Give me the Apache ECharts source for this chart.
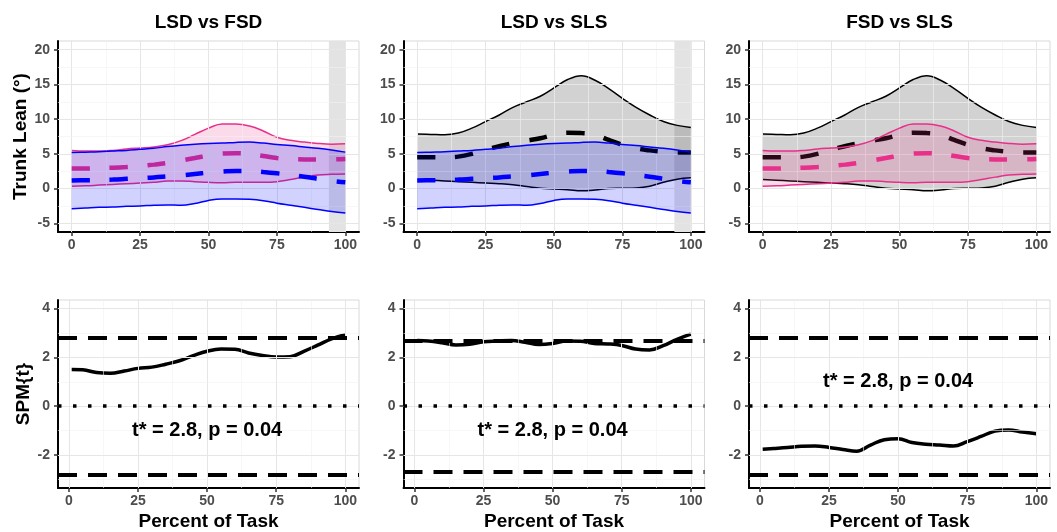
<!DOCTYPE html>
<html>
<head>
<meta charset="utf-8">
<script src="https://cdn.jsdelivr.net/npm/echarts@6/dist/echarts.min.js"></script>
<style>
html, body { margin: 0; padding: 0; background: #fff; }
#chart { width: 1057px; height: 532px; }
</style>
</head>
<body>
<div id="chart"></div>
<script>
/* percent of task for the mean +/- sd curves */
var pct = [0, 5, 10, 15, 20, 25, 30, 35, 40, 45, 50, 55, 60, 65, 70, 75, 80, 85, 90, 95, 100];
/* percent of task for the SPM{t} curves */
var spmPct = [1, 5, 10, 15, 20, 25, 30, 35, 40, 45, 50, 55, 60, 65, 70, 75, 80, 85, 90, 95, 100];

var lsdUpper = [5.2, 5.25, 5.3, 5.4, 5.5, 5.65, 5.8, 6.05, 6.25, 6.4, 6.5, 6.55, 6.65, 6.7, 6.55, 6.35, 6.2, 6.0, 5.8, 5.55, 5.25];
var lsdMean = [1.15, 1.2, 1.25, 1.3, 1.4, 1.5, 1.6, 1.75, 1.9, 2.1, 2.3, 2.45, 2.55, 2.55, 2.4, 2.2, 1.95, 1.7, 1.4, 1.1, 0.9];
var lsdLower = [-2.9, -2.8, -2.7, -2.65, -2.55, -2.5, -2.4, -2.35, -2.4, -2.15, -1.7, -1.5, -1.5, -1.55, -1.75, -2.1, -2.4, -2.7, -3.0, -3.3, -3.5];

var fsdUpper = [5.5, 5.4, 5.4, 5.5, 5.7, 5.85, 6.0, 6.3, 6.9, 7.8, 8.7, 9.3, 9.3, 9.0, 8.3, 7.4, 6.95, 6.7, 6.5, 6.4, 6.45];
var fsdMean = [2.9, 2.9, 2.95, 3.0, 3.1, 3.25, 3.45, 3.7, 4.05, 4.4, 4.75, 5.05, 5.1, 5.0, 4.7, 4.4, 4.25, 4.2, 4.2, 4.2, 4.25];
var fsdLower = [0.35, 0.4, 0.5, 0.6, 0.7, 0.8, 0.9, 1.1, 1.1, 1.0, 0.9, 0.85, 0.9, 0.9, 0.9, 1.0, 1.3, 1.65, 1.95, 2.05, 2.1];

var slsUpper = [7.85, 7.8, 7.75, 8.0, 8.7, 9.65, 10.6, 11.7, 12.5, 13.3, 14.5, 15.7, 16.25, 15.6, 14.4, 13.0, 11.7, 10.6, 9.65, 9.1, 8.8];
var slsMean = [4.5, 4.5, 4.5, 4.6, 5.0, 5.6, 6.1, 6.55, 6.9, 7.25, 7.75, 8.05, 8.0, 7.75, 7.0, 6.3, 5.8, 5.5, 5.3, 5.2, 5.2];
var slsLower = [1.3, 1.2, 1.1, 1.0, 0.9, 0.8, 0.7, 0.55, 0.3, 0.05, -0.05, -0.15, -0.3, -0.2, 0.0, 0.05, 0.1, 0.35, 0.9, 1.35, 1.55];

var spmLsdFsd = [1.5, 1.49, 1.38, 1.35, 1.44, 1.55, 1.6, 1.72, 1.86, 2.07, 2.25, 2.34, 2.33, 2.18, 2.08, 2.02, 2.03, 2.25, 2.5, 2.76, 2.93];
var spmLsdSls = [2.69, 2.67, 2.6, 2.51, 2.54, 2.64, 2.67, 2.69, 2.62, 2.53, 2.57, 2.67, 2.66, 2.57, 2.55, 2.49, 2.34, 2.3, 2.48, 2.74, 2.95];
var spmFsdSls = [-1.76, -1.73, -1.69, -1.64, -1.63, -1.69, -1.77, -1.84, -1.59, -1.37, -1.33, -1.49, -1.56, -1.59, -1.63, -1.45, -1.24, -1.02, -0.97, -1.06, -1.13];

var titles = ['LSD vs FSD', 'LSD vs SLS', 'FSD vs SLS'];
var critT = [2.8, 2.7, 2.8];
var annotText = 't* = 2.8, p = 0.04';
var annotPos = [[50, -1], [50, -1], [50, 1]];
var sigRegions = [[94, 100], [94, 100], null];

var xTicks = [0, 25, 50, 75, 100];
var xMinor = [12.5, 37.5, 62.5, 87.5];
var topYTicks = [-5, 0, 5, 10, 15, 20];
var topYMinor = [-2.5, 2.5, 7.5, 12.5, 17.5];
var botYTicks = [-2, 0, 2, 4];
var botYMinor = [-3, -1, 1, 3];

var FONT = 'Liberation Sans, Arial, sans-serif';
var PINK = '#e8308a', BLUE = '#0000ff', BLACK = '#000000';

var groups = {
    lsd: { upper: lsdUpper, mean: lsdMean, lower: lsdLower, color: BLUE, rgb: '0,0,255' },
    fsd: { upper: fsdUpper, mean: fsdMean, lower: fsdLower, color: PINK, rgb: '232,48,138' },
    sls: { upper: slsUpper, mean: slsMean, lower: slsLower, color: BLACK, rgb: '0,0,0' }
};
/* draw order in each top panel (later ones on top) */
var panelGroups = [['fsd', 'lsd'], ['sls', 'lsd'], ['sls', 'fsd']];
var spmSeries = [spmLsdFsd, spmLsdSls, spmFsdSls];

var panelLeft = [58, 403.5, 749];
var panelWidth = 301;

var grids = [], xAxes = [], yAxes = [], series = [], graphics = [];

function pairs(xs, ys) {
    return xs.map(function (x, i) { return [x, ys[i]]; });
}
// [y, x] order so the stack goes on the y value (both axes are value axes)
function flipped(xs, ys) {
    return xs.map(function (x, i) { return [ys[i], x]; });
}

function gridLines(gi, xs, ys) {
    var d = [];
    xs.major.forEach(function (v) { d.push({ xAxis: v, lineStyle: { color: '#e6e6e6', width: 1, type: 'solid' } }); });
    xs.minor.forEach(function (v) { d.push({ xAxis: v, lineStyle: { color: '#f2f2f2', width: 0.6, type: 'solid' } }); });
    ys.major.forEach(function (v) { d.push({ yAxis: v, lineStyle: { color: '#e6e6e6', width: 1, type: 'solid' } }); });
    ys.minor.forEach(function (v) { d.push({ yAxis: v, lineStyle: { color: '#f2f2f2', width: 0.6, type: 'solid' } }); });
    series.push({
        type: 'line', xAxisIndex: gi, yAxisIndex: gi, data: [], z: 0, silent: true,
        markLine: { silent: true, symbol: ['none', 'none'], label: { show: false }, animation: false, data: d }
    });
}

function axisPair(gi, xMin, xMax, yMin, yMax, yTicks, yName, xName) {
    xAxes.push({
        gridIndex: gi, type: 'value', min: xMin, max: xMax,
        axisLine: { show: true, onZero: false, lineStyle: { color: '#000', width: 2 } },
        axisTick: { show: true, customValues: xTicks, length: 4, lineStyle: { color: '#333', width: 1.5 } },
        axisLabel: { customValues: xTicks, margin: 6, color: '#4d4d4d', fontWeight: 'bold', fontSize: 14, fontFamily: FONT },
        splitLine: { show: false },
        name: xName || '', nameLocation: 'middle', nameGap: 24,
        nameTextStyle: { fontSize: 19, fontWeight: 'bold', color: '#000', fontFamily: FONT }
    });
    yAxes.push({
        gridIndex: gi, type: 'value', min: yMin, max: yMax,
        axisLine: { show: true, onZero: false, lineStyle: { color: '#000', width: 2 } },
        axisTick: { show: true, customValues: yTicks, length: 4, lineStyle: { color: '#333', width: 1.5 } },
        axisLabel: { customValues: yTicks, margin: 8, color: '#4d4d4d', fontWeight: 'bold', fontSize: 14, fontFamily: FONT },
        splitLine: { show: false },
        name: yName || '', nameLocation: 'middle', nameGap: 23,
        nameTextStyle: { fontSize: 19, fontWeight: 'bold', color: '#000', fontFamily: FONT }
    });
}

/* top row: mean +/- sd bands */
for (var i = 0; i < 3; i++) {
    grids.push({ left: panelLeft[i], top: 41, width: panelWidth, height: 191, show: true, borderColor: '#d9d9d9', borderWidth: 1 });
    axisPair(i, -5, 105, -6.25, 21.25, topYTicks, i === 0 ? 'Trunk Lean (°)' : '');
    gridLines(i, { major: xTicks, minor: xMinor }, { major: topYTicks, minor: topYMinor });

    if (sigRegions[i]) {
        series.push({
            type: 'line', xAxisIndex: i, yAxisIndex: i, data: [], z: 1, silent: true,
            markArea: { silent: true, itemStyle: { color: '#e3e3e3' }, data: [[{ xAxis: sigRegions[i][0] }, { xAxis: sigRegions[i][1] }]] }
        });
    }

    panelGroups[i].forEach(function (key, k) {
        var g = groups[key];
        var z = 3 + k * 3;
        var stackId = 'band' + i + key;
        series.push({
            type: 'line', xAxisIndex: i, yAxisIndex: i, stack: stackId, stackStrategy: 'all',
            encode: { x: 1, y: 0 },
            data: flipped(pct, g.lower), symbol: 'none', smooth: 0.4,
            lineStyle: { color: g.color, width: 1.5 }, z: z + 1
        });
        series.push({
            type: 'line', xAxisIndex: i, yAxisIndex: i, stack: stackId, stackStrategy: 'all',
            encode: { x: 1, y: 0 },
            data: flipped(pct, g.upper.map(function (v, j) { return v - g.lower[j]; })),
            symbol: 'none', smooth: 0.4,
            lineStyle: { color: g.color, width: 1.5 },
            areaStyle: { color: 'rgba(' + g.rgb + ',0.25)' }, z: z
        });
        series.push({
            type: 'line', xAxisIndex: i, yAxisIndex: i, data: pairs(pct, g.mean),
            symbol: 'none', smooth: 0.4,
            lineStyle: { color: g.color, width: 4.5, type: [18, 20], cap: 'butt' }, z: z + 2
        });
    });

    graphics.push({
        type: 'text', x: panelLeft[i] + panelWidth / 2, y: 23,
        style: { text: titles[i], font: 'bold 19px ' + FONT, fill: '#000', align: 'center', verticalAlign: 'middle', textAlign: 'center', textVerticalAlign: 'middle' }
    });
}

/* bottom row: SPM{t} */
for (var i = 0; i < 3; i++) {
    var gi = 3 + i;
    grids.push({ left: panelLeft[i], top: 300, width: panelWidth, height: 191, show: true, borderColor: '#d9d9d9', borderWidth: 1 });
    axisPair(gi, -3.95, 104.95, -3.35, 4.35, botYTicks, i === 0 ? 'SPM{t}' : '', 'Percent of Task');
    gridLines(gi, { major: xTicks, minor: xMinor }, { major: botYTicks, minor: botYMinor });

    series.push({
        type: 'line', xAxisIndex: gi, yAxisIndex: gi, data: [], z: 2, silent: true,
        markLine: {
            silent: true, symbol: ['none', 'none'], label: { show: false }, animation: false,
            data: [
                { yAxis: critT[i], lineStyle: { color: '#000', width: 4, type: [19, 11], cap: 'butt' } },
                { yAxis: -critT[i], lineStyle: { color: '#000', width: 4, type: [19, 11], cap: 'butt' } },
                { yAxis: 0, lineStyle: { color: '#000', width: 3.5, type: [3.5, 11.5], cap: 'butt' } }
            ]
        }
    });
    series.push({
        type: 'line', xAxisIndex: gi, yAxisIndex: gi, data: pairs(spmPct, spmSeries[i]),
        symbol: 'none', smooth: 0.4, lineStyle: { color: '#000', width: 3.5 }, z: 3
    });
}

var chart = echarts.init(document.getElementById('chart'), null, { renderer: 'canvas' });
chart.setOption({
    animation: false,
    backgroundColor: '#ffffff',
    grid: grids,
    xAxis: xAxes,
    yAxis: yAxes,
    series: series,
    graphic: graphics
});

/* t* annotations, placed through the axes of each SPM panel */
var notes = annotPos.map(function (p, i) {
    var px = chart.convertToPixel({ gridIndex: 3 + i }, p);
    return {
        type: 'text', x: px[0], y: px[1], z: 10,
        style: { text: annotText, font: 'bold 20px ' + FONT, fill: '#000', align: 'center', verticalAlign: 'middle', textAlign: 'center', textVerticalAlign: 'middle' }
    };
});
chart.setOption({ graphic: graphics.concat(notes) });
</script>
</body>
</html>
